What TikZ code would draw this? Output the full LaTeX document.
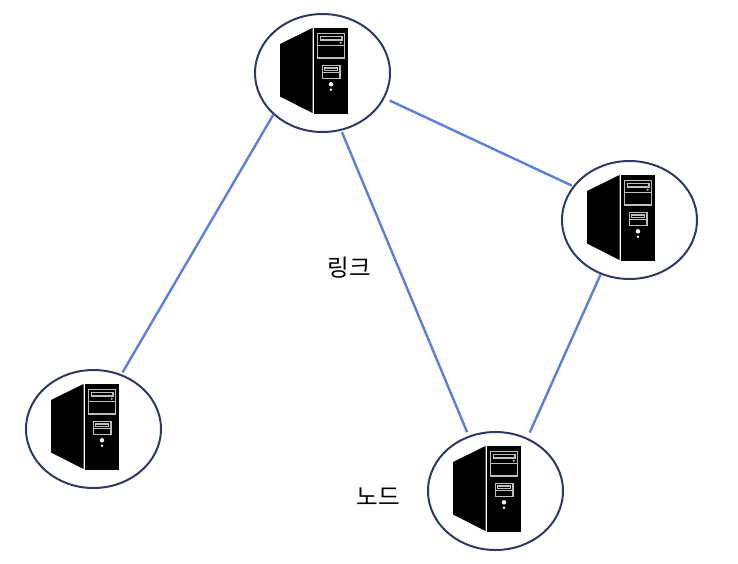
\documentclass[tikz,border=0pt]{standalone}
\usepackage{fontspec}
\setmainfont{Noto Sans CJK KR}
\usetikzlibrary{shapes.geometric}
\definecolor{ringc}{HTML}{2F3A64}
\definecolor{linkc}{HTML}{5B7FDC}
\definecolor{slotc}{HTML}{BEBEBE}
\tikzset{
  x=1pt,y=-1pt,
  hostring/.style={draw=ringc,line width=2pt,ellipse,minimum width=135pt,minimum height=118pt,inner sep=0pt,outer sep=0pt},
  linkline/.style={draw=linkc,line width=2.4pt},
  lbl/.style={font=\fontsize{23.5pt}{26pt}\selectfont,text=black,inner sep=0pt},
  slot/.style={draw=slotc,line width=1.3pt,fill=none},
  pics/tower/.style={code={
    \fill[black] (-42.5,-29) -- (-10,-45) -- (-10,40) -- (-42.5,23.5) -- cycle;
    \fill[black] (-8.2,-45) rectangle (25.5,40.5);
    \draw[slot] (-4.8,-39.7) rectangle (22.2,-15);
    \draw[slot] (-4.8,-27.7) -- (22.2,-27.7);
    \draw[slot] (-2.3,-36.7) rectangle (19.5,-33);
    \fill[slotc] (18.2,-30.3) circle (1.1pt);
    \draw[slot] (-0.2,-7.7) rectangle (17.5,5.7);
    \draw[slot] (-0.2,-0.5) -- (17.5,-0.5);
    \draw[slot] (2.3,-5) rectangle (15,-2.7);
    \fill[white] (8.5,11.3) circle (2.2pt);
    \fill[white] (8.5,16.7) circle (1.4pt);
  }}
}
\begin{document}
\begin{tikzpicture}
\useasboundingbox (0,0) rectangle (738,563);
\node[hostring] (top) at (322.5,73) {};
\node[hostring] (right) at (629.5,220) {};
\node[hostring] (left) at (93.5,429) {};
\node[hostring] (bottom) at (495.5,491) {};
\pic at (top.center) {tower};
\pic at (right.center) {tower};
\pic at (left.center) {tower};
\pic at (bottom.center) {tower};
\draw[linkline,shorten <=0.5pt,shorten >=3.1pt] (top.220.9) -- (left.63.6);
\draw[linkline,shorten <=2.6pt,shorten >=5pt] (top.-72.6) -- (bottom.116);
\draw[linkline,shorten <=6.6pt,shorten >=2.2pt] (top.-22.3) -- (right.149.2);
\draw[linkline,shorten <=0.8pt,shorten >=6.9pt] (right.-118.7) -- (bottom.59.8);
\node[lbl] (linklabel) at (349.5,268) {링크};
\node[lbl] (nodelabel) at (378.5,496.5) {노드};
\end{tikzpicture}
\end{document}
